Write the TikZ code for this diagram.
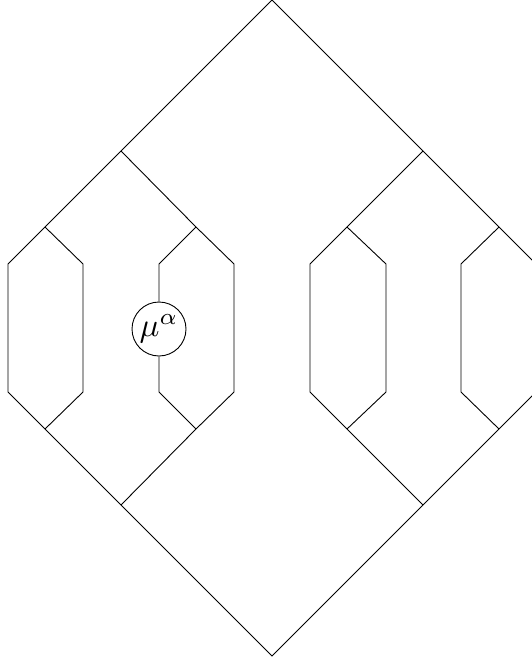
\documentclass[tikz,border=0pt]{standalone}
\usepackage{graphicx}
\begin{document}
\begin{tikzpicture}[x=1pt,y=-1pt,line width=0.9pt,
  wire/.style={draw=black,line join=miter},
  mubox/.style={circle,draw=black,fill=white,minimum size=54pt,inner sep=0pt}]
\useasboundingbox (0,0) rectangle (532,661);
\clip (0,0) rectangle (532,661);
% junction coordinates
\coordinate (T) at (272,0);
\coordinate (B) at (272,656);
\coordinate (L1) at (121,151);
\coordinate (L1b) at (121,505);
\coordinate (R1) at (423,151);
\coordinate (R1b) at (423,505);
\coordinate (LL) at (45,227);
\coordinate (LLb) at (45,429);
\coordinate (LR) at (196,227);
\coordinate (LRb) at (196,429);
\coordinate (RL) at (347,227);
\coordinate (RLb) at (347,429);
\coordinate (RR) at (499,227);
\coordinate (RRb) at (499,429);
% circle
\node[mubox] (mu) at (159,329) {\scalebox{3.3}{$\mu^\alpha$}};
% outer diamond
\draw[wire] (T) -- (L1) -- (LL) -- (8,264) -- (8,392) -- (LLb) -- (L1b) -- (B)
  -- (R1b) -- (RRb) -- (536,392) -- (536,264) -- (RR) -- (R1) -- cycle;
% left inner branches
\draw[wire] (LL) -- (83,264) -- (83,392) -- (LLb);
\draw[wire] (L1) -- (LR) -- (234,264) -- (234,392) -- (LRb) -- (L1b);
\draw[wire] (mu.north) -- (159,264) -- (LR);
\draw[wire] (mu.south) -- (159,392) -- (LRb);
% right inner branches
\draw[wire] (R1) -- (RL) -- (310,264) -- (310,392) -- (RLb) -- (R1b);
\draw[wire] (RL) -- (386,264) -- (386,392) -- (RLb);
\draw[wire] (RR) -- (461,264) -- (461,392) -- (RRb);
\end{tikzpicture}
\end{document}
